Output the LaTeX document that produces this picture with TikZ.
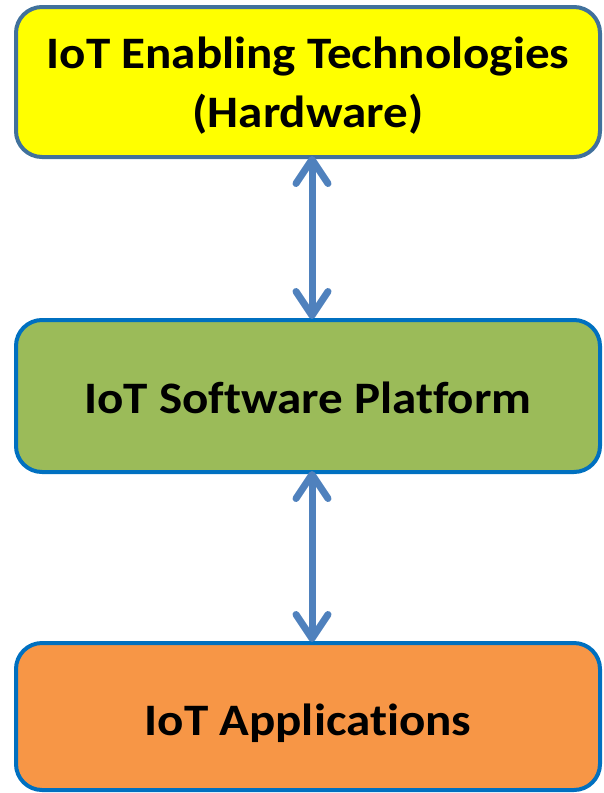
\documentclass[tikz,border=0pt]{standalone}
\usepackage{fontspec}
\setmainfont{Carlito}[FakeStretch=1.09,Ligatures=NoCommon]
\usetikzlibrary{arrows.meta}
\definecolor{topfill}{HTML}{FFFF00}
\definecolor{midfill}{HTML}{9BBB59}
\definecolor{botfill}{HTML}{F79646}
\definecolor{topline}{HTML}{41719C}
\definecolor{boxline}{HTML}{0070C0}
\definecolor{arrowc}{HTML}{4F81BD}
\tikzset{
  layerbox/.style={draw, line width=4pt, rounded corners=26pt, minimum width=584pt,
    align=center, font=\bfseries\fontsize{45}{59}\selectfont, inner sep=0pt},
  biarrow/.style={draw=arrowc, line width=7pt,
    {Straight Barb[length=24pt,width=32pt,line cap=round,round]}-{Straight Barb[length=24pt,width=32pt,line cap=round,round]}}
}
\begin{document}
\begin{tikzpicture}[x=1pt,y=-1pt]
\useasboundingbox (0,0) rectangle (603,793);
\node[layerbox, draw=topline, fill=topfill, minimum height=150pt, text depth=0pt] (hw) at (308,82) {IoT Enabling Technologies\\(Hardware)};
\node[layerbox, draw=boxline, fill=midfill, minimum height=152pt, text height=34pt, text depth=0pt] (sw) at (308,396) {IoT Software Platform};
\node[layerbox, draw=boxline, fill=botfill, minimum height=147pt, text height=37pt, text depth=0pt] (app) at (308,716.5) {IoT Applications};
\draw[biarrow] ([xshift=4pt,yshift=3pt]hw.south) -- ([xshift=4pt,yshift=-1pt]sw.north);
\draw[biarrow] ([xshift=4pt,yshift=3pt]sw.south) -- ([xshift=4pt,yshift=-1pt]app.north);
\end{tikzpicture}
\end{document}
